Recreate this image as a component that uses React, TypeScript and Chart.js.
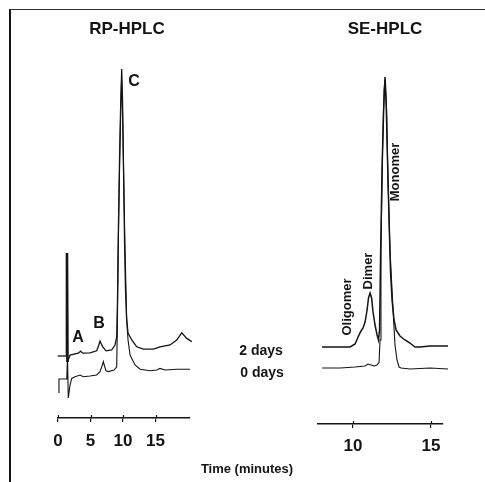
import React, { useEffect, useRef } from 'react';
import { Chart, registerables } from 'chart.js';

Chart.register(...registerables);

const FONT = '"Liberation Sans", Arial, Helvetica, sans-serif';
const INK = '#141414';

// ---------- RP-HPLC (time in minutes, signal in arbitrary units) ----------
const rpTicks = [0, 5, 10, 15];
const rpTime2d = [-0.05, -0.05, 1.34, 1.38, 1.46, 1.85, 3.12, 3.49, 3.8, 4.92, 5.95, 6.23, 6.46, 6.88, 7.38, 8.26, 8.77, 9.03, 9.15, 9.31, 9.46, 9.62, 9.8, 9.92, 10.08, 10.23, 10.38, 10.54, 10.77, 11.34, 12.11, 13.12, 14.66, 15.69, 17.23, 18.26, 19.03, 19.8, 20.57, 21.08];
const rpSignal2d = [9.5, 15.5, 15.5, 41.25, 14, 15.75, 16.2, 16.7, 16.2, 16.3, 16.8, 18, 19.25, 17.8, 16.8, 17, 18.25, 20.3, 29.5, 49.5, 64.5, 77, 87.25, 79.5, 62, 44.5, 32, 25, 21.25, 19.5, 17.8, 17.2, 17.2, 17.8, 18.25, 19.5, 21.3, 19.9, 19.1, 18.9];
const rpTime0d = [0.15, 0.15, 1.35, 1.46, 1.58, 1.85, 2.11, 2.62, 3.38, 3.89, 4.92, 5.95, 6.46, 6.77, 6.97, 7.15, 7.38, 7.74, 8.62, 9.03, 9.12, 9.28, 9.46, 9.65, 9.77, 9.92, 10.11, 10.31, 10.57, 10.77, 11.08, 11.85, 12.62, 14.15, 15.18, 15.69, 16.46, 18.26, 20.3];
const rpSignal0d = [6.25, 9.75, 9.75, 15.5, 5, 8.25, 9.9, 10.3, 10.75, 10.3, 10.5, 10.75, 11.6, 13, 14.1, 13, 11.8, 11.6, 12, 12.8, 22, 44.5, 62, 77, 84.5, 77, 59.5, 42, 24.5, 19.5, 15.75, 13.25, 12.2, 11.8, 12, 12.4, 12, 12.2, 12.2];
const rpPeakLabels = ['A', 'B', 'C'];
const rpPeakTimes = [3.08, 6.3, 11.69];
const rpPeakHeights = [20, 23.5, 84];

// ---------- SE-HPLC ----------
const seTicks = [10, 15];
const seTime2d = [8.01, 9.81, 10.13, 10.32, 10.51, 10.64, 10.77, 10.9, 10.99, 11.09, 11.19, 11.28, 11.41, 11.54, 11.63, 11.7, 11.76, 11.86, 11.96, 12.05, 12.12, 12.21, 12.31, 12.4, 12.5, 12.63, 12.76, 13.01, 13.33, 13.65, 13.97, 14.29, 14.94, 16.09];
const seSignal2d = [19.25, 19.25, 20, 21.75, 23.25, 24, 25.5, 28.5, 31.5, 32.75, 31.5, 28, 24.75, 22.25, 21, 23.5, 41, 63.5, 78.5, 86.75, 81, 66, 51, 38.5, 31, 26, 23.5, 22, 21, 20.25, 19.25, 19.25, 19.5, 19.5];
const seTime0d = [8.01, 9.17, 10.13, 10.77, 10.96, 11.15, 11.35, 11.54, 11.67, 11.73, 11.79, 11.89, 11.99, 12.05, 12.15, 12.24, 12.37, 12.5, 12.6, 12.69, 12.82, 12.95, 13.08, 13.65, 14.94, 16.09];
const seSignal0d = [14, 14, 14.25, 14.5, 15, 14.75, 14.5, 14.75, 15.5, 21, 43.5, 68.5, 83.5, 86, 78.5, 61, 43.5, 33.5, 26, 19.75, 16, 14.25, 14, 13.75, 14, 13.75];
const sePeakLabels = ['Oligomer', 'Dimer', 'Monomer'];
const sePeakTimes = [9.65, 10.96, 12.69];
const sePeakHeights = [29.25, 38.25, 63];

const toPoints = (xs: number[], ys: number[]) => xs.map((x, i) => ({ x, y: ys[i] }));

function labelPlugin(labels: string[], times: number[], heights: number[], rotate: boolean, size: number) {
  return {
    id: 'peakLabels',
    afterDatasetsDraw(chart: any) {
      const { ctx } = chart;
      const xs = chart.scales.x;
      const ys = chart.scales.y;
      ctx.save();
      // tick marks crossing above the axis line
      ctx.strokeStyle = INK;
      ctx.lineWidth = 1.2;
      xs.ticks.forEach((t: any) => {
        const px = Math.round(xs.getPixelForValue(t.value)) + 0.5;
        ctx.beginPath();
        ctx.moveTo(px, xs.top - 3);
        ctx.lineTo(px, xs.top);
        ctx.stroke();
      });
      ctx.fillStyle = INK;
      ctx.font = `bold ${size}px ${FONT}`;
      ctx.textAlign = 'center';
      ctx.textBaseline = 'middle';
      labels.forEach((l, i) => {
        const px = xs.getPixelForValue(times[i]);
        const py = ys.getPixelForValue(heights[i]);
        ctx.save();
        ctx.translate(px, py);
        if (rotate) ctx.rotate(-Math.PI / 2);
        ctx.fillText(l, 0, 0);
        ctx.restore();
      });
      ctx.restore();
    },
  };
}

function makeConfig(opts: any) {
  return {
    type: 'line',
    data: {
      datasets: opts.series.map((s: any) => ({
        data: s.data,
        borderColor: INK,
        borderWidth: s.width,
        pointRadius: 0,
        fill: false,
        tension: 0,
        clip: false,
        segment: s.segment,
      })),
    },
    options: {
      animation: false,
      responsive: false,
      devicePixelRatio: 1,
      events: [],
      layout: { padding: opts.pad },
      plugins: { legend: { display: false }, tooltip: { enabled: false }, title: { display: false } },
      scales: {
        x: {
          type: 'linear',
          min: opts.xMin,
          max: opts.xMax,
          position: 'bottom',
          afterBuildTicks: (s: any) => {
            s.ticks = opts.ticks.map((v: number) => ({ value: v }));
          },
          afterFit: (s: any) => {
            s.paddingLeft = 0;
            s.paddingRight = 0;
            s.height = 40;
          },
          grid: { drawOnChartArea: false, drawTicks: true, tickLength: 4, color: INK, lineWidth: 1.2 },
          border: { display: true, color: INK, width: 1.6 },
          ticks: {
            color: INK,
            font: { family: FONT, size: 17, weight: 'bold' },
            padding: opts.tickPad,
            maxRotation: 0,
            autoSkip: false,
          },
        },
        y: { display: false, min: 0, max: 92 },
      },
    },
    plugins: [opts.plugin],
  };
}

function ChartCanvas({ build, left, width, height }: any) {
  const ref = useRef<HTMLCanvasElement>(null);
  useEffect(() => {
    const chart = new Chart(ref.current as HTMLCanvasElement, build() as any);
    return () => chart.destroy();
  }, []);
  return (
    <canvas
      ref={ref}
      width={width}
      height={height}
      style={{ position: 'absolute', left, top: 0, width, height }}
    />
  );
}

const buildRP = () =>
  makeConfig({
    series: [
      {
        data: toPoints(rpTime2d, rpSignal2d),
        width: 1.3,
        segment: {
          borderWidth: (ctx: any) => {
            const t = rpTime2d[ctx.p0DataIndex];
            return t >= 1.3 && t < 1.4 ? 2.6 : undefined;
          },
        },
      },
      { data: toPoints(rpTime0d, rpSignal0d), width: 1.1 },
    ],
    xMin: 0,
    xMax: 20.3,
    ticks: rpTicks,
    pad: { left: 58, right: 50, top: 50, bottom: 24 },
    tickPad: 9,
    plugin: labelPlugin(rpPeakLabels, rpPeakTimes, rpPeakHeights, false, 16),
  });

const buildSE = () =>
  makeConfig({
    series: [
      { data: toPoints(seTime2d, seSignal2d), width: 1.5 },
      { data: toPoints(seTime0d, seSignal0d), width: 1.1 },
    ],
    xMin: 7.75,
    xMax: 15.77,
    ticks: seTicks,
    pad: { left: 78, right: 42, top: 56, bottom: 18 },
    tickPad: 8,
    plugin: labelPlugin(sePeakLabels, sePeakTimes, sePeakHeights, true, 13),
  });

function Txt({ x, y, size, children }: any) {
  return (
    <div
      style={{
        position: 'absolute',
        left: x,
        top: y,
        transform: 'translate(-50%, -50%)',
        font: `bold ${size}px ${FONT}`,
        lineHeight: 1,
        whiteSpace: 'nowrap',
        color: INK,
      }}
    >
      {children}
    </div>
  );
}

export default function App() {
  return (
    <div
      style={{
        position: 'fixed',
        left: 0,
        top: 0,
        width: 485,
        height: 482,
        background: '#fff',
        overflow: 'hidden',
      }}
    >
      <div
        style={{
          position: 'absolute',
          left: 9,
          top: 9,
          width: 480,
          height: 480,
          borderLeft: `2px solid ${INK}`,
          borderTop: `1px solid #333`,
        }}
      />
      <ChartCanvas build={buildRP} left={0} width={240} height={482} />
      <ChartCanvas build={buildSE} left={240} width={245} height={482} />
      <Txt x={127} y={28} size={17}>RP-HPLC</Txt>
      <Txt x={385} y={28} size={17}>SE-HPLC</Txt>
      <Txt x={261} y={350} size={14}>2 days</Txt>
      <Txt x={262} y={372} size={14}>0 days</Txt>
      <Txt x={247} y={468} size={13}>Time (minutes)</Txt>
    </div>
  );
}
